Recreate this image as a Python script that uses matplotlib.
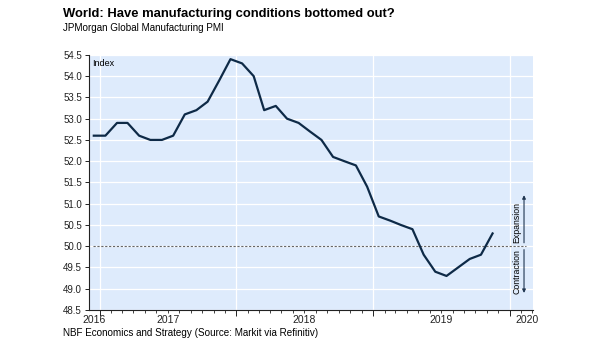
import numpy as np
import pandas as pd
import matplotlib
matplotlib.use('Agg')
import matplotlib.pyplot as plt
import matplotlib.dates as mdates
from matplotlib.transforms import blended_transform_factory

plt.rcParams['font.family'] = ['Liberation Sans', 'DejaVu Sans']

# JPMorgan Global Manufacturing PMI, Dec 2016 - Nov 2019 (monthly)
start_month = '2016-12-01'
pmi = [52.6,
       52.6, 52.9, 52.9, 52.6, 52.5, 52.5, 52.6, 53.1, 53.2, 53.4, 53.9, 54.4,
       54.3, 54.0, 53.2, 53.3, 53.0, 52.9, 52.7, 52.5, 52.1, 52.0, 51.9, 51.4,
       50.7, 50.6, 50.5, 50.4, 49.8, 49.4, 49.3, 49.5, 49.7, 49.8, 50.3]
year_labels = ['2016', '2017', '2018', '2019', '2020']
year_label_pos = ['2016-12-18', '2017-07-01', '2018-07-01', '2019-07-01', '2020-02-15']
yticks = [48.5, 49.0, 49.5, 50.0, 50.5, 51.0, 51.5, 52.0, 52.5, 53.0, 53.5, 54.0, 54.5]

dates = pd.date_range(start_month, periods=len(pmi), freq='MS') + pd.Timedelta(days=15)

fig = plt.figure(figsize=(6.05, 3.41), dpi=100)
ax = fig.add_axes([0.147, 0.091, 0.734, 0.748])
ax.set_facecolor('#deebfc')

ax.plot(dates, pmi, color='#0e2a47', lw=1.6, zorder=3)
ax.axhline(50, color='#666666', lw=0.8, ls=(0, (2, 1.5)), zorder=2,
           xmin=0.01, xmax=0.985)

ax.set_xlim(pd.Timestamp('2016-12-03'), pd.Timestamp('2020-03-03'))
ax.set_ylim(48.5, 54.5)
ax.set_yticks(yticks)
ax.set_yticklabels(['%.1f' % v for v in yticks])

ax.xaxis.set_major_locator(mdates.YearLocator())
ax.xaxis.set_minor_locator(mdates.MonthLocator())
ax.xaxis.set_major_formatter(plt.NullFormatter())
ax.grid(True, which='major', color='white', lw=0.9)
ax.set_axisbelow(True)

for s in ['top', 'right']:
    ax.spines[s].set_visible(False)
for s in ['left', 'bottom']:
    ax.spines[s].set_color('#222222')
    ax.spines[s].set_linewidth(0.8)

ax.tick_params(axis='y', labelsize=7, length=3, width=0.7, pad=2, colors='#222222')
ax.tick_params(axis='x', which='major', length=4, width=0.7, color='#222222')
ax.tick_params(axis='x', which='minor', length=2, width=0.6, color='#222222')

trans = blended_transform_factory(ax.transData, ax.transAxes)
for lab, pos in zip(year_labels, year_label_pos):
    ax.text(pd.Timestamp(pos), -0.02, lab, transform=trans, ha='center', va='top',
            fontsize=7.5, color='#222222')

ax.text(0.008, 0.985, 'Index', transform=ax.transAxes, ha='left', va='top', fontsize=6.5)

# Expansion / Contraction arrows
xa = pd.Timestamp('2020-02-08')
ax.annotate('', xy=(xa, 51.2), xytext=(xa, 50.08),
            arrowprops=dict(arrowstyle='-|>', color='#1f3550', lw=0.8,
                            mutation_scale=5, shrinkA=0, shrinkB=0))
ax.annotate('', xy=(xa, 48.9), xytext=(xa, 49.92),
            arrowprops=dict(arrowstyle='-|>', color='#1f3550', lw=0.8,
                            mutation_scale=5, shrinkA=0, shrinkB=0))
xt = pd.Timestamp('2020-01-20')
ax.text(xt, 50.55, 'Expansion', rotation=90, ha='center', va='center', fontsize=6.3)
ax.text(xt, 49.4, 'Contraction', rotation=90, ha='center', va='center', fontsize=6.3)

fig.text(0.104, 0.978, 'World: Have manufacturing conditions bottomed out?',
         fontsize=9.4, fontweight='bold', ha='left', va='top')
fig.text(0.104, 0.932, 'JPMorgan Global Manufacturing PMI',
         fontsize=7.1, ha='left', va='top')
fig.text(0.104, 0.01, 'NBF Economics and Strategy (Source: Markit via Refinitiv)',
         fontsize=7.1, ha='left', va='bottom')

fig.savefig('out.png', dpi=100)
